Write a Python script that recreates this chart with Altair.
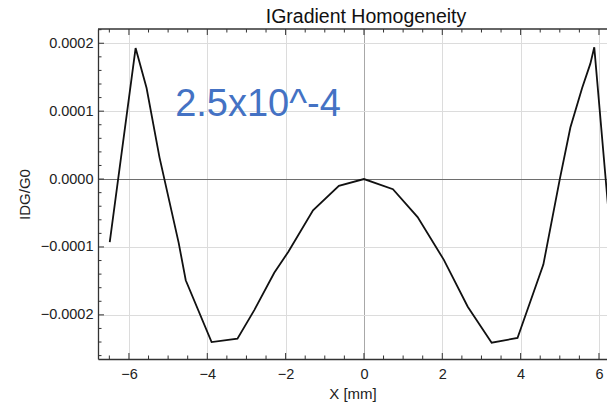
import altair as alt
import pandas as pd

# ---- data ----
x_mm = [-6.49, -5.83, -5.55, -5.22, -4.73, -4.55, -3.89, -3.23, -2.80, -2.29,
        -1.93, -1.30, -0.64, 0.0, 0.74, 1.37, 2.04, 2.65, 3.26, 3.92,
        4.58, 5.00, 5.27, 5.57, 5.78, 5.88, 6.41]
idg = [-0.000093, 0.000193, 0.000134, 0.000032, -0.000094, -0.000149, -0.000240,
       -0.000235, -0.000193, -0.000138, -0.000107, -0.000046, -0.000010, 0.0,
       -0.000015, -0.000056, -0.000119, -0.000188, -0.000241, -0.000234,
       -0.000126, 0.0, 0.000076, 0.000134, 0.000170, 0.000194, -0.000159]

x_major = [-6, -4, -2, 0, 2, 4, 6]
y_major = [-0.0002, -0.0001, 0.0, 0.0001, 0.0002]
x_minor = [-6.5, -5.5, -5.0, -4.5, -3.5, -3.0, -2.5, -1.5, -1.0, -0.5,
           0.5, 1.0, 1.5, 2.5, 3.0, 3.5, 4.5, 5.0, 5.5]
y_minor = [-0.00026, -0.00024, -0.00022, -0.00018, -0.00016, -0.00014, -0.00012,
           -0.00008, -0.00006, -0.00004, -0.00002, 0.00002, 0.00004, 0.00006,
           0.00008, 0.00012, 0.00014, 0.00016, 0.00018, 0.00022]

annotation_text = ["2.5x10^-4"]
annotation_x = [-4.82]
annotation_y = [0.0000928]

title_text = ["IGradient Homogeneity"]
x_title = "X [mm]"
y_title = "IDG/G0"

W, H = 509, 330
FONT = "Liberation Sans"
xs = alt.Scale(domain=[-6.79, 6.205], nice=False, zero=False)
ys = alt.Scale(domain=[-0.000265, 0.000221], nice=False, zero=False)

df = pd.DataFrame({"x": x_mm, "y": idg})
dxmaj = pd.DataFrame({"x": x_major})
dxmin = pd.DataFrame({"x": x_minor})
dymaj = pd.DataFrame({"y": y_major})
dymin = pd.DataFrame({"y": y_minor})
dann = pd.DataFrame({"x": annotation_x, "y": annotation_y, "t": annotation_text})
dtitle = pd.DataFrame({"t": title_text})

FRAME = "#333"
x_axis = alt.Axis(values=x_major, format="d", title=x_title, grid=True,
                  gridColor=alt.condition("datum.value == 0", alt.value("#a8a8a8"), alt.value("#dcdcdc")),
                  gridWidth=1, ticks=False, domain=True,
                  domainColor=FRAME, domainWidth=1.3,
                  labelFont=FONT, labelFontSize=14.5, labelColor="#222",
                  labelPadding=8, titleFont=FONT, titleFontSize=15,
                  titleFontWeight="normal", titleColor="#222", titlePadding=6)
y_axis = alt.Axis(values=y_major, format=".4f", title=y_title, grid=True,
                  gridColor=alt.condition("datum.value == 0", alt.value("#6e6e6e"), alt.value("#dcdcdc")),
                  gridWidth=alt.condition("datum.value == 0", alt.value(1.2), alt.value(1)),
                  ticks=False, domain=True,
                  domainColor=FRAME, domainWidth=1.3,
                  labelFont=FONT, labelFontSize=14.5, labelColor="#222",
                  labelPadding=5, titleFont=FONT, titleFontSize=15,
                  titleFontWeight="normal", titleColor="#222", titlePadding=8)

X = lambda: alt.X("x:Q", scale=xs, axis=x_axis)
Y = lambda: alt.Y("y:Q", scale=ys, axis=y_axis)

top_frame = alt.Chart(dtitle).mark_rule(color=FRAME, strokeWidth=1.3).encode(
    y=alt.value(0), x=alt.value(0), x2=alt.value(W))

def xticks(d, length, top):
    if top:
        enc = dict(y=alt.value(0), y2=alt.value(length))
    else:
        enc = dict(y=alt.value(H), y2=alt.value(H - length))
    return alt.Chart(d).mark_rule(color=FRAME, strokeWidth=1).encode(x=X(), **enc)

def yticks(d, length):
    return alt.Chart(d).mark_rule(color=FRAME, strokeWidth=1).encode(
        y=Y(), x=alt.value(0), x2=alt.value(length))

line = alt.Chart(df).mark_line(color="#111", strokeWidth=1.8, clip=True).encode(
    x=X(), y=Y())

ann = alt.Chart(dann).mark_text(align="left", baseline="alphabetic", fontSize=38,
                                font=FONT, color="#4472C4").encode(
    x=X(), y=Y(), text="t:N")

title = alt.Chart(dtitle).mark_text(align="center", baseline="alphabetic", fontSize=19.5,
                                    font=FONT, color="#111").encode(
    x=alt.value(268), y=alt.value(-6), text="t:N")

chart = alt.layer(
    line,
    xticks(dxmaj, 6, False), xticks(dxmin, 3.5, False),
    xticks(dxmaj, 6, True), xticks(dxmin, 3.5, True),
    yticks(dymaj, 6), yticks(dymin, 3.5),
    top_frame,
    ann,
    title,
).properties(
    width=W, height=H,
    padding={"left": 90, "top": 21, "right": 0, "bottom": 46},
    autosize=alt.AutoSizeParams(type="none"),
).configure_view(stroke=None)

chart.save("out.html", embed_options={"renderer": "svg", "actions": False})
